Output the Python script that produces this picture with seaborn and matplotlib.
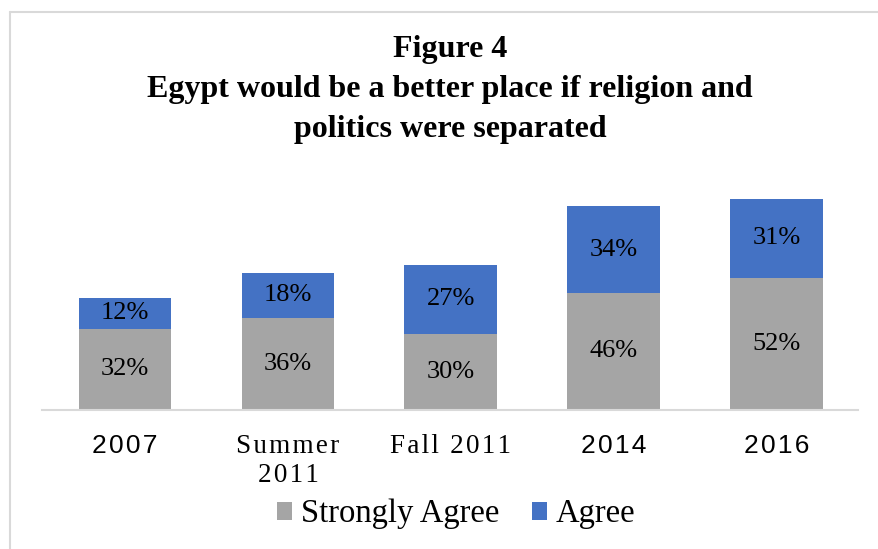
import matplotlib
matplotlib.use("Agg")
import matplotlib.pyplot as plt
from matplotlib.patches import Patch
from matplotlib.lines import Line2D
import seaborn as sns
import pandas as pd

periods = ["2007", "Summer\n2011", "Fall 2011", "2014", "2016"]
strongly_agree = [32, 36, 30, 46, 52]
agree = [12, 18, 27, 34, 31]
serif_ticks = {"Summer\n2011", "Fall 2011"}

GRAY = "#A5A5A5"
BLUE = "#4472C4"
RULE = "#D9D9D9"

W, H = 879, 549
sns.set_theme(style="white")
plt.rcParams["font.family"] = ["Liberation Serif", "DejaVu Serif"]
plt.rcParams["text.color"] = "black"

fig = plt.figure(figsize=(W / 100, H / 100), dpi=100)
fig.patch.set_facecolor("white")

# axes in pixel terms: x 42..858, baseline at y=410, top at y=190
ax = fig.add_axes([42 / W, (H - 410) / H, (858 - 42) / W, (410 - 190) / H])

df = pd.DataFrame({"period": periods, "strong": strongly_agree, "agree": agree})
df["total"] = df["strong"] + df["agree"]

# stacked bars: totals first (Agree on top), then the Strongly Agree part over them
sns.barplot(data=df, x="period", y="total", color=BLUE, saturation=1, width=0.57,
            edgecolor="none", ax=ax, order=periods)
sns.barplot(data=df, x="period", y="strong", color=GRAY, saturation=1, width=0.57,
            edgecolor="none", ax=ax, order=periods)

ax.set_xlim(-0.51, 4.5)
ax.set_ylim(0, 86.4)
ax.set_xlabel("")
ax.set_ylabel("")
ax.set_yticks([])
for s in ["top", "right", "left"]:
    ax.spines[s].set_visible(False)
ax.spines["bottom"].set_color(RULE)
ax.spines["bottom"].set_linewidth(1.5)

# segment value labels
for i, (s, a) in enumerate(zip(strongly_agree, agree)):
    ax.text(i, s / 2, f"{s}%", ha="center", va="center", fontsize=19, color="black")
    ax.text(i, s + a / 2, f"{a}%", ha="center", va="center", fontsize=19, color="black")


def spaced(label):
    return "\n".join("\u200a".join(line) for line in label.split("\n"))


ax.set_xticks(range(len(periods)))
ax.set_xticklabels([spaced(p) for p in periods])
ax.tick_params(axis="x", length=0, pad=17)
for lab, p in zip(ax.get_xticklabels(), periods):
    if p in serif_ticks:
        lab.set_fontfamily(["Liberation Serif", "DejaVu Serif"])
        lab.set_fontsize(19.5)
    else:
        lab.set_fontfamily(["Liberation Sans", "DejaVu Sans"])
        lab.set_fontsize(19)
    lab.set_color("black")
    lab.set_linespacing(1.25)

fig.text(450 / W, 1 - 35 / H,
         "Figure 4\nEgypt would be a better place if religion and\npolitics were separated",
         ha="center", va="top", fontsize=23, fontweight="bold", linespacing=1.5,
         color="black")

handles = [Patch(facecolor=GRAY, edgecolor="none", label="Strongly Agree"),
           Patch(facecolor=BLUE, edgecolor="none", label="Agree")]
fig.legend(handles=handles, loc="center", bbox_to_anchor=(456 / W, 1 - 514 / H), ncol=2,
           frameon=False, fontsize=23.5, handlelength=0.46, handleheight=0.46,
           handletextpad=0.28, columnspacing=1.0, borderaxespad=0, labelcolor="black")

# light frame along the top and left edges
fig.add_artist(Line2D([10 / W, 1], [1 - 11.5 / H, 1 - 11.5 / H], transform=fig.transFigure,
                      color=RULE, lw=1.5))
fig.add_artist(Line2D([10 / W, 10 / W], [0, 1 - 11.5 / H], transform=fig.transFigure,
                      color=RULE, lw=1.5))

fig.savefig("out.png", dpi=100, facecolor="white")
